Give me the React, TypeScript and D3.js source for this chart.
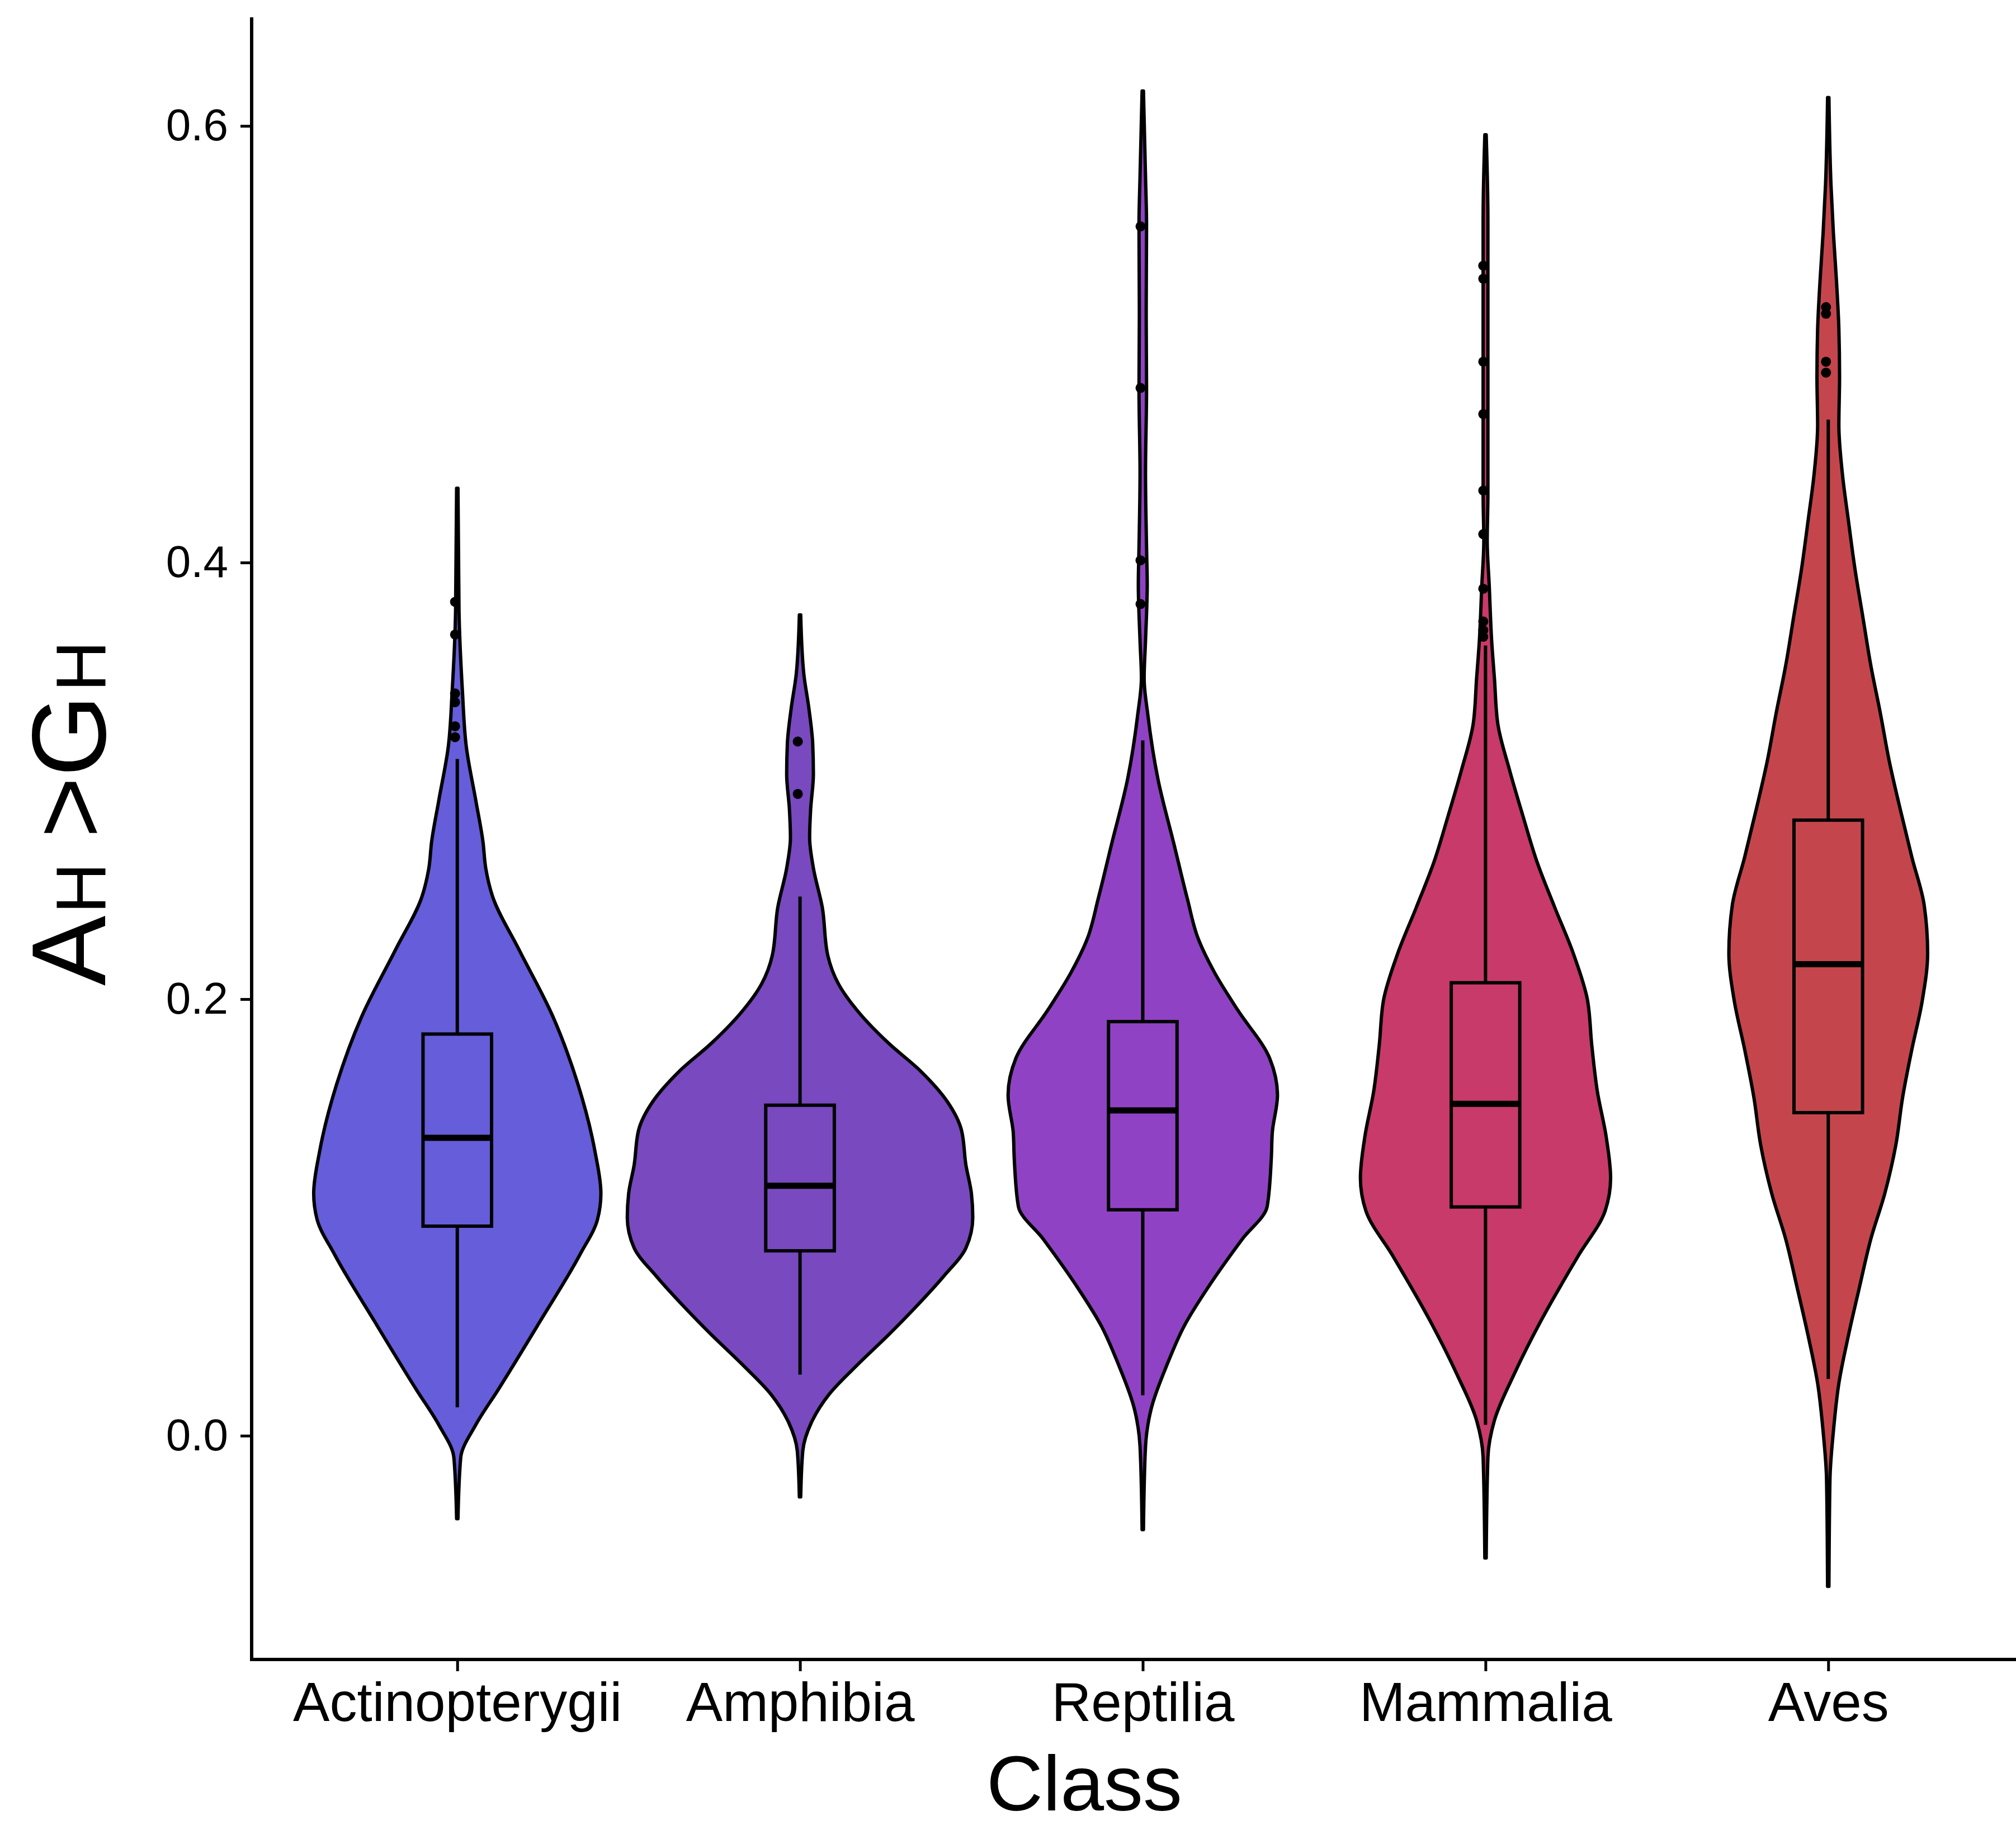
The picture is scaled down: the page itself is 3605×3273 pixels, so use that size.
import * as d3 from "d3";
import React, { useEffect, useRef } from "react";

const classes = ["Actinopterygii", "Amphibia", "Reptilia", "Mammalia", "Aves"];
const fills = ["#655dda", "#7849bf", "#8f43c4", "#c83a69", "#c4464c"];

// violin outlines: [value, half width in category steps]
const actinopterygiiViolin = [
  [0.434, 0.002], [0.378, 0.005], [0.341, 0.015], [0.316, 0.026], [0.291, 0.054],
  [0.272, 0.075], [0.26, 0.083], [0.247, 0.103], [0.223, 0.179], [0.192, 0.279],
  [0.161, 0.352], [0.13, 0.402], [0.111, 0.419], [0.099, 0.409], [0.083, 0.358],
  [0.052, 0.24], [0.021, 0.119], [0.005, 0.054], [-0.01, 0.01], [-0.038, 0.002],
];
const amphibiaViolin = [
  [0.376, 0.002], [0.349, 0.011], [0.333, 0.026], [0.317, 0.037], [0.303, 0.039],
  [0.287, 0.031], [0.274, 0.028], [0.26, 0.039], [0.242, 0.065], [0.22, 0.081],
  [0.207, 0.112], [0.194, 0.171], [0.18, 0.257], [0.167, 0.352], [0.153, 0.43],
  [0.14, 0.471], [0.124, 0.484], [0.111, 0.5], [0.1, 0.504], [0.086, 0.484],
  [0.073, 0.419], [0.06, 0.344], [0.046, 0.257], [0.033, 0.171], [0.019, 0.085],
  [0.006, 0.033], [-0.007, 0.008], [-0.028, 0.002],
];
const reptiliaViolin = [
  [0.616, 0.002], [0.577, 0.008], [0.555, 0.011], [0.513, 0.01], [0.479, 0.011],
  [0.441, 0.008], [0.407, 0.011], [0.39, 0.013], [0.364, 0.008], [0.347, 0.004],
  [0.33, 0.015], [0.301, 0.044], [0.271, 0.091], [0.246, 0.13], [0.228, 0.161],
  [0.212, 0.21], [0.195, 0.277], [0.173, 0.37], [0.156, 0.393], [0.139, 0.378],
  [0.127, 0.375], [0.105, 0.363], [0.09, 0.29], [0.069, 0.195], [0.05, 0.12],
  [0.033, 0.072], [0.012, 0.024], [-0.005, 0.008], [-0.043, 0.002],
];
const mammaliaViolin = [
  [0.596, 0.002], [0.557, 0.007], [0.515, 0.007], [0.473, 0.007], [0.431, 0.007],
  [0.41, 0.005], [0.389, 0.011], [0.364, 0.018], [0.347, 0.026], [0.326, 0.036],
  [0.305, 0.07], [0.284, 0.109], [0.263, 0.15], [0.242, 0.202], [0.221, 0.256],
  [0.2, 0.297], [0.179, 0.31], [0.158, 0.326], [0.137, 0.352], [0.118, 0.365],
  [0.103, 0.349], [0.082, 0.269], [0.053, 0.163], [0.028, 0.083], [0.007, 0.026],
  [-0.01, 0.007], [-0.056, 0.002],
];
const avesViolin = [
  [0.613, 0.002], [0.573, 0.008], [0.551, 0.015], [0.529, 0.024], [0.507, 0.031],
  [0.485, 0.033], [0.463, 0.031], [0.441, 0.041], [0.419, 0.059], [0.397, 0.078],
  [0.375, 0.101], [0.353, 0.124], [0.331, 0.152], [0.309, 0.178], [0.287, 0.21],
  [0.265, 0.244], [0.243, 0.28], [0.221, 0.29], [0.199, 0.274], [0.177, 0.244],
  [0.155, 0.217], [0.133, 0.197], [0.111, 0.165], [0.09, 0.124], [0.068, 0.091],
  [0.046, 0.059], [0.024, 0.031], [0.002, 0.015], [-0.02, 0.005], [-0.069, 0.002],
];
const violins = [actinopterygiiViolin, amphibiaViolin, reptiliaViolin, mammaliaViolin, avesViolin];

// lower whisker, q1, median, q3, upper whisker
const boxStats = [
  [0.013, 0.096, 0.1365, 0.184, 0.31],
  [0.028, 0.0847, 0.1145, 0.1514, 0.247],
  [0.0185, 0.1035, 0.149, 0.1897, 0.3185],
  [0.005, 0.1048, 0.152, 0.2075, 0.362],
  [0.026, 0.148, 0.216, 0.282, 0.4655],
];

const outliers = [
  [0.382, 0.367, 0.34, 0.336, 0.325, 0.32],
  [0.318, 0.294],
  [0.554, 0.48, 0.401, 0.381],
  [0.536, 0.53, 0.492, 0.468, 0.433, 0.413, 0.388, 0.373, 0.369, 0.366],
  [0.517, 0.514, 0.492, 0.487],
];

const yTicks = [0, 0.2, 0.4, 0.6];

const FONT = "'Liberation Sans', Arial, sans-serif";

const App = () => {
  const svgRef = useRef(null);

  useEffect(() => {
    document.body.style.margin = "0";
    const svg = d3.select(svgRef.current);
    svg.selectAll("*").remove();

    const left = 450;
    const top = 32;
    const bottom = 2968;

    const x = d3.scalePoint().domain(classes).range([left, 3637]).padding(0.6);
    const y = d3.scaleLinear().domain([-0.1025, 0.6495]).range([bottom, top]);
    const w = d3.scaleLinear().domain([0, 1]).range([0, x.step()]);

    const g = svg.append("g");

    classes.forEach((c, i) => {
      const cx = x(c);
      const area = d3
        .area()
        .y((d) => y(d[0]))
        .x0((d) => cx - w(d[1]))
        .x1((d) => cx + w(d[1]))
        .curve(d3.curveMonotoneY);

      g.append("path")
        .attr("d", area(violins[i]))
        .attr("fill", fills[i])
        .attr("stroke", "#000")
        .attr("stroke-width", 6)
        .attr("stroke-linejoin", "round");

      const [lo, q1, med, q3, hi] = boxStats[i];
      const bw = w(0.1);

      g.append("line")
        .attr("x1", cx).attr("x2", cx)
        .attr("y1", y(hi)).attr("y2", y(q3))
        .attr("stroke", "#000").attr("stroke-width", 6);
      g.append("line")
        .attr("x1", cx).attr("x2", cx)
        .attr("y1", y(q1)).attr("y2", y(lo))
        .attr("stroke", "#000").attr("stroke-width", 6);

      g.append("rect")
        .attr("x", cx - bw)
        .attr("width", bw * 2)
        .attr("y", y(q3))
        .attr("height", y(q1) - y(q3))
        .attr("fill", fills[i])
        .attr("stroke", "#000")
        .attr("stroke-width", 6);

      g.append("line")
        .attr("x1", cx - bw).attr("x2", cx + bw)
        .attr("y1", y(med)).attr("y2", y(med))
        .attr("stroke", "#000").attr("stroke-width", 11);

      g.selectAll(null)
        .data(outliers[i])
        .enter()
        .append("circle")
        .attr("cx", cx - 4)
        .attr("cy", (d) => y(d))
        .attr("r", 9)
        .attr("fill", "#000");
    });

    // y axis
    const ya = svg
      .append("g")
      .attr("transform", `translate(${left},0)`)
      .call(
        d3.axisLeft(y)
          .tickValues(yTicks)
          .tickFormat(d3.format(".1f"))
          .tickSize(20)
          .tickPadding(22)
          .tickSizeOuter(0)
      );
    ya.select(".domain").remove();
    ya.selectAll(".tick line").attr("stroke", "#000").attr("stroke-width", 5);
    ya.selectAll(".tick text")
      .attr("fill", "#000")
      .style("font-family", FONT)
      .style("font-size", "80px");

    // x axis
    const xa = svg
      .append("g")
      .attr("transform", `translate(0,${bottom})`)
      .call(d3.axisBottom(x).tickSize(21).tickPadding(19).tickSizeOuter(0));
    xa.select(".domain").remove();
    xa.selectAll(".tick line").attr("stroke", "#000").attr("stroke-width", 5);
    xa.selectAll(".tick text")
      .attr("fill", "#000")
      .style("font-family", FONT)
      .style("font-size", "98px");

    // axis lines
    svg.append("line")
      .attr("x1", left).attr("x2", left)
      .attr("y1", top - 1).attr("y2", bottom + 3)
      .attr("stroke", "#000").attr("stroke-width", 6);
    svg.append("line")
      .attr("x1", left - 3).attr("x2", 3605)
      .attr("y1", bottom).attr("y2", bottom)
      .attr("stroke", "#000").attr("stroke-width", 6);

    // axis titles
    svg.append("text")
      .attr("x", 1939)
      .attr("y", 3238)
      .attr("text-anchor", "middle")
      .style("font-family", FONT)
      .style("font-size", "140px")
      .text("Class");

    const yl = svg.append("text")
      .attr("transform", "translate(188,1763) rotate(-90)")
      .style("font-family", FONT)
      .style("font-size", "188px");
    yl.append("tspan").attr("x", 0).text("A");
    yl.append("tspan").attr("x", 129).style("font-size", "126px").text("H");
    yl.append("tspan").attr("x", 264).text(">");
    yl.append("tspan").attr("x", 374).text("G");
    yl.append("tspan").attr("x", 526).style("font-size", "126px").text("H");
  }, []);

  return (
    <svg
      ref={svgRef}
      width="3605"
      height="3273"
      style={{ display: "block", background: "#fff" }}
    ></svg>
  );
};

export default App;
